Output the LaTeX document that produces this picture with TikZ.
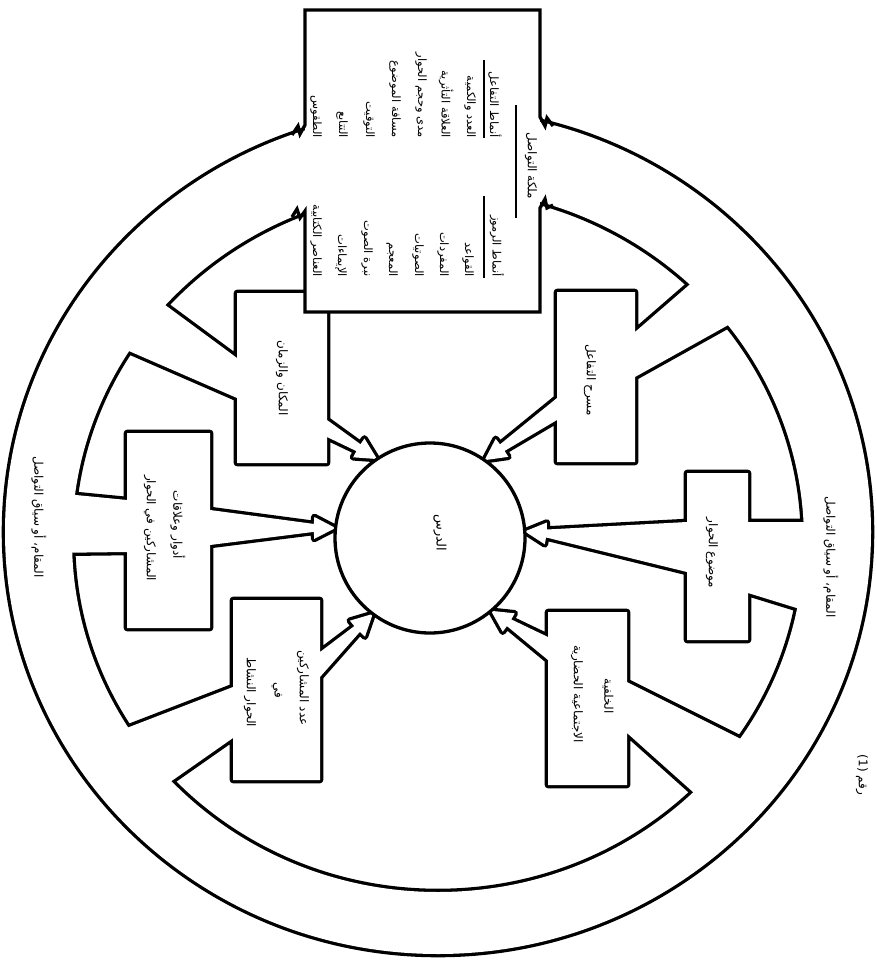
\documentclass[tikz,border=0pt]{standalone}
\usepackage{fontspec}
\newfontfamily\arabicfont[Script=Arabic]{DejaVu Sans}
\TeXXeTstate=1
\usetikzlibrary{calc}
\newcommand\artxt[1]{\beginR #1\endR}
\newcommand\arrowpts[4]{%
 \coordinate (#1P) at (#2);
 \coordinate (#1Q) at (#3);
 \coordinate (#1T) at (#4);
 \coordinate (#1M) at ($(#1P)!.5!(#1Q)$);
 \coordinate (#1B) at ($(#1T)!22pt!(#1M)$);
 \coordinate (#1b) at ($(#1T)!22pt!(#1P)$);
 \coordinate (#1c) at ($(#1T)!22pt!(#1Q)$);
 \coordinate (#1S) at ($(#1B)!4pt!(#1b)$);
 \coordinate (#1R) at ($(#1B)!4pt!(#1c)$);
 \coordinate (#1H) at ($(#1B)!11pt!(#1b)$);
 \coordinate (#1K) at ($(#1B)!11pt!(#1c)$);
}
\def\ringpath{(438,532) ellipse [x radius=433, y radius=422] (438,540) ellipse [x radius=366, y radius=352]}
\def\spUL{(237,293) -- (327,293) -- (ulP) -- (ulS) -- (ulH) -- (ulT) -- (ulK) -- (ulR) -- (ulQ) -- (327,463) -- (237,463) -- (237,398) -- (99,338) -- (138,285) -- (237,358) -- cycle}
\def\spUR{(557,292) -- (635,292) -- (635,332) -- (718,260) -- (757,309) -- (635,377) -- (635,462) -- (557,462) -- (urP) -- (urS) -- (urH) -- (urT) -- (urK) -- (urR) -- (urQ) -- cycle}
\def\spRR{(687,473) -- (748,473) -- (748,522) -- (835,522) -- (829,618) -- (748,593) -- (748,640) -- (687,640) -- (rrP) -- (rrS) -- (rrH) -- (rrT) -- (rrK) -- (rrR) -- (rrQ) -- cycle}
\def\spLR{(548,612) -- (627,612) -- (627,682) -- (775,756) -- (721,817) -- (627,733) -- (627,785) -- (548,785) -- (lrP) -- (lrS) -- (lrH) -- (lrT) -- (lrK) -- (lrR) -- (lrQ) -- cycle}
\def\spLL{(233,600) -- (320,600) -- (llP) -- (llS) -- (llH) -- (llT) -- (llK) -- (llR) -- (llQ) -- (320,780) -- (233,780) -- (233,738) -- (143,801) -- (93,741) -- (233,687) -- cycle}
\def\spLE{(127,433) -- (210,433) -- (leP) -- (leS) -- (leH) -- (leT) -- (leK) -- (leR) -- (leQ) -- (210,628) -- (127,628) -- (127,552) -- (45,553) -- (45,492) -- (127,500) -- cycle}
\tikzset{
 rim/.style={line width=6.6pt, line join=round},
 boxline/.style={line width=3.3pt, line join=miter},
 arlbl/.style={font=\arabicfont\fontsize{12}{14}\selectfont, rotate=-90, inner sep=0pt},
 toplbl/.style={font=\arabicfont\fontsize{11.5}{13}\selectfont, rotate=-90, inner sep=0pt, anchor=east},
 uline/.style={line width=1.4pt},
}
\begin{document}
\begin{tikzpicture}[x=1pt,y=-1pt]
\useasboundingbox (0,0) rectangle (877,960);
\arrowpts{ul}{327,420}{327,437}{377,459}
\arrowpts{ur}{557,420}{557,398}{484.5,460.2}
\arrowpts{rr}{687,572}{687,522}{524.8,531.4}
\arrowpts{lr}{548,660}{548,637}{491,610.8}
\arrowpts{ll}{320,652}{320,677}{372.8,613.9}
\arrowpts{le}{210,510}{210,545}{335.5,528}
% outline pass (union of ring and spokes)
\draw[rim] \ringpath;
\draw[rim] \spUL;
\draw[rim] \spUR;
\draw[rim] \spRR;
\draw[rim] \spLR;
\draw[rim] \spLL;
\draw[rim] \spLE;
% fill pass
\fill[white, even odd rule] \ringpath;
\fill[white] \spUL;
\fill[white] \spUR;
\fill[white] \spRR;
\fill[white] \spLR;
\fill[white] \spLL;
\fill[white] \spLE;
% centre circle
\node[draw, circle, line width=3.3pt, fill=white, minimum size=190pt, inner sep=0pt] (centre) at (430,538) {};
% top box
\fill[white] (305,10) rectangle (540,312);
\draw[boxline] (292,135) -- (298,126) -- (300,134) -- (305,125) -- (305,10) -- (540,10) -- (540,117) -- (545,126) -- (547,118) -- (553,126);
\draw[boxline] (292,217) -- (297,209) -- (300,218) -- (305,211) -- (305,312) -- (540,312) -- (540,208) -- (545,199) -- (547,208) -- (553,205);
% top box texts
\node[arlbl] (head) at (531,166) {\artxt{ملكة التواصل}};
\draw[uline] (516,105) -- (516,218);
\node[toplbl] (ta) at (495,138) {\artxt{أنماط التفاعل}};
\draw[uline] (484,60) -- (484,138);
\node[toplbl] (t1) at (470,138) {\artxt{العدد والكمية}};
\node[toplbl] (t2) at (446,138) {\artxt{العلاقة التأثرية}};
\node[toplbl] (t3) at (421,138) {\artxt{مدى وحجم الحوار}};
\node[toplbl] (t4) at (395,138) {\artxt{مسافة الموضوع}};
\node[toplbl] (t5) at (369,138) {\artxt{التوقيت}};
\node[toplbl] (t6) at (342,138) {\artxt{التتابع}};
\node[toplbl] (t7) at (316,138) {\artxt{الطقوس}};
\node[toplbl] (ra) at (497,277) {\artxt{أنماط الرموز}};
\draw[uline] (484,196) -- (484,278);
\node[toplbl] (r1) at (468,277) {\artxt{القواعد}};
\node[toplbl] (r2) at (443,277) {\artxt{المفردات}};
\node[toplbl] (r3) at (418,277) {\artxt{الصوتيات}};
\node[toplbl] (r4) at (392,277) {\artxt{المعجم}};
\node[toplbl] (r5) at (367,277) {\artxt{نبرة الصوت}};
\node[toplbl] (r6) at (341,277) {\artxt{الإيماءات}};
\node[toplbl] (r7) at (316,277) {\artxt{العناصر الكتابية}};
% other labels
\node[arlbl, font=\arabicfont\fontsize{13}{15}\selectfont] (lesson) at (440,533) {\artxt{الدرس}};
\node[arlbl] (ringR) at (831,557) {\artxt{المقام، أو سياق التواصل}};
\node[arlbl] (ringL) at (39,517) {\artxt{المقام، أو سياق التواصل}};
\node[arlbl] (ulx) at (282,378) {\artxt{المكان والزمان}};
\node[arlbl] (urx) at (590,380) {\artxt{مسرح التفاعل}};
\node[arlbl] (rrx) at (712,553) {\artxt{موضوع الحوار}};
\node[arlbl] (lrx1) at (608,696) {\artxt{الخلفية}};
\node[arlbl] (lrx2) at (577,694) {\artxt{الاجتماعية الحضارية}};
\node[arlbl] (lex1) at (178,525) {\artxt{أدوار وعلاقات}};
\node[arlbl] (lex2) at (150,528) {\artxt{المشاركين في الحوار}};
\node[arlbl] (llx1) at (303,688) {\artxt{عدد المشاركين}};
\node[arlbl] (llx2) at (277,690) {\artxt{في}};
\node[arlbl] (llx3) at (250,692) {\artxt{الحوار النشاط}};
\node[arlbl] (cap) at (862,775) {\beginR رقم \beginL(1)\endL\endR};
\end{tikzpicture}
\end{document}
